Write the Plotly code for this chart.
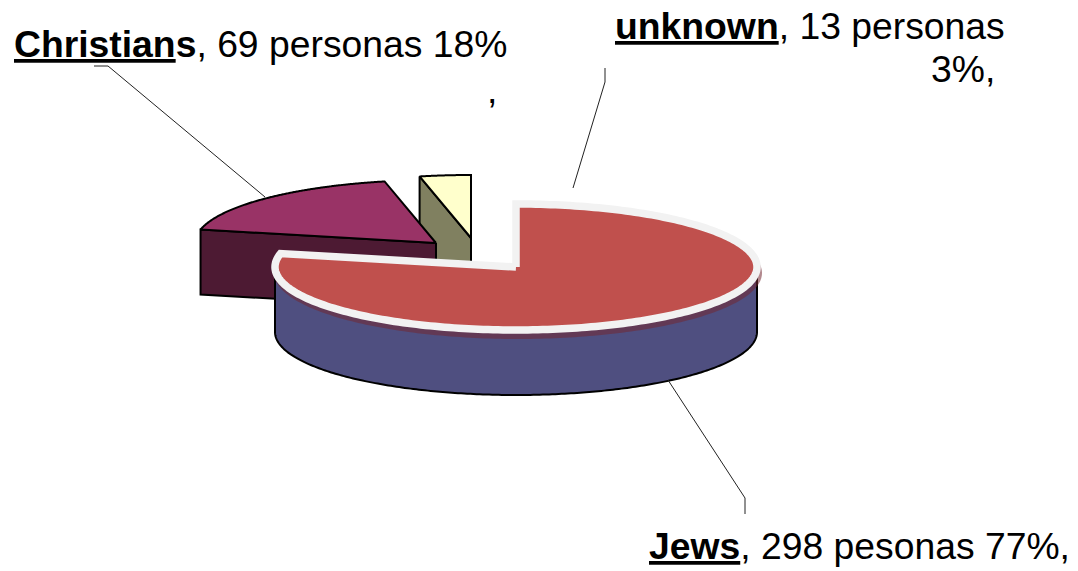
import numpy as np
import plotly.graph_objects as go

# Data
groups = ["Jews", "Christians", "unknown"]
persons = [298, 69, 13]

# Styles / layout constants
W, H = 1078, 571
RX, RY, DEPTH = 241, 63, 65
CENTRES = {"Jews": (516, 267), "Christians": (436, 243), "unknown": (471, 238)}
TOP = {"Jews": "#C0504D", "Christians": "#993366", "unknown": "#FFFFCC"}
SIDE = {"Jews": "#4F4F80", "Christians": "#4D1A33", "unknown": "#808060"}
FONT = "Liberation Sans"
FS = 37.3

# Slice angles come from the values (clockwise from 12 o'clock)
fractions = np.array(persons) / sum(persons)
ends = np.cumsum(fractions) * 2 * np.pi
starts = ends - fractions * 2 * np.pi
ANG = {g: (s, e) for g, s, e in zip(groups, starts, ends)}


def arc(c, a0, a1, rx=RX, ry=RY):
    t = np.linspace(a0, a1, 240)
    return c[0] + rx * np.sin(t), c[1] - ry * np.cos(t)


def sector(c, a0, a1, rx=RX, ry=RY, dx=0, dy=0):
    x, y = arc(c, a0, a1, rx, ry)
    return np.r_[c[0], x, c[0]] + dx, np.r_[c[1], y, c[1]] + dy


fig = go.Figure()


def poly(x, y, fill, line="black", width=2):
    fig.add_trace(go.Scatter(
        x=list(x), y=list(y), mode="lines", fill="toself", fillcolor=fill,
        line=dict(color=line, width=width, shape="linear", simplify=False),
        hoverinfo="skip", showlegend=False))


def cut_face(g, angle):
    c = CENTRES[g]
    ex, ey = arc(c, angle, angle)
    ex, ey = ex[0], ey[0]
    poly([c[0], ex, ex, c[0], c[0]], [c[1], ey, ey + DEPTH, c[1] + DEPTH, c[1]], SIDE[g])


# unknown (back, exploded)
a0, a1 = ANG["unknown"]
cut_face("unknown", a0)
poly(*sector(CENTRES["unknown"], a0, a1), TOP["unknown"])

# Christians
a0, a1 = ANG["Christians"]
cut_face("Christians", a0)
poly(*sector(CENTRES["Christians"], a0, a1), TOP["Christians"])

# Jews: outer wall, soft shadow, then top face with pale border
c = CENTRES["Jews"]
a0, a1 = ANG["Jews"]
xa, ya = arc(c, np.pi / 2, 3 * np.pi / 2)
poly(np.r_[xa, xa[::-1], xa[0]], np.r_[ya + DEPTH, ya[::-1], ya[0] + DEPTH], SIDE["Jews"])
sx, sy = sector(c, a0, a1, RX + 3, RY + 3, dx=2, dy=6)
fig.add_trace(go.Scatter(x=sx, y=sy, mode="lines", fill="toself",
                         fillcolor="rgba(115,40,50,0.55)",
                         line=dict(width=0, simplify=False),
                         hoverinfo="skip", showlegend=False))
tx, ty = sector(c, a0, a1)
poly(tx, ty, TOP["Jews"], line="#F2F2F2", width=7.5)

# Leader lines
leaders = [
    ([94, 108, 265], [66, 66, 197]),
    ([605, 605, 573], [68, 82, 188]),
    ([668, 745, 745], [380, 498, 514]),
]
for lx, ly in leaders:
    fig.add_trace(go.Scatter(x=lx, y=ly, mode="lines", line=dict(color="#222222", width=1),
                             hoverinfo="skip", showlegend=False))

labels = [
    (12, 44, "<b><u>Christian</u>s</b>, 69 personas 18%"),
    (485, 90, ","),
    (613, 26, "<b><u>unknown</u></b>, 13 personas"),
    (929, 69, "3%,"),
    (647, 546, "<b><u>Jews</u></b>, 298 pesonas 77%,"),
]
annotations = [dict(x=x, y=y, text=t, showarrow=False, xanchor="left", yanchor="middle",
                    xref="x", yref="y", font=dict(family=FONT, size=FS, color="black"))
               for x, y, t in labels]

fig.update_layout(
    width=W, height=H, margin=dict(l=0, r=0, t=0, b=0),
    paper_bgcolor="white", plot_bgcolor="white", showlegend=False,
    xaxis=dict(range=[0, W], visible=False, fixedrange=True),
    yaxis=dict(range=[H, 0], visible=False, fixedrange=True),
    annotations=annotations,
)
fig.write_html("out.html", config={"displayModeBar": False},
               post_script="document.body.style.margin='0';document.body.style.overflow='hidden';")
